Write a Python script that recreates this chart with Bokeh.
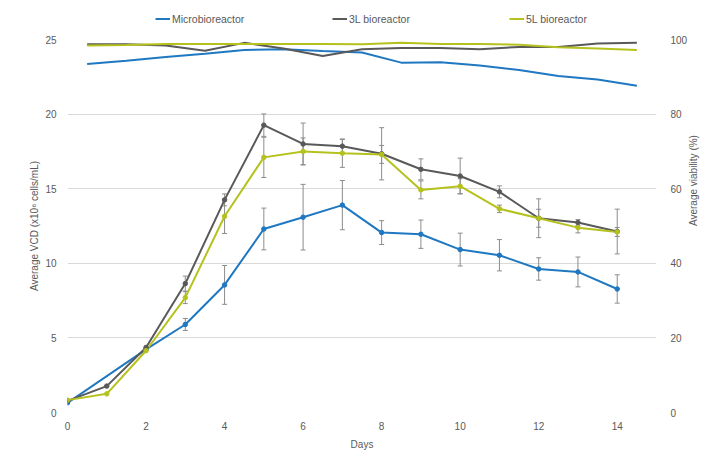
import math
from bokeh.plotting import figure
from bokeh.layouts import column
from bokeh.models import (Range1d, LinearAxis, Legend, LegendItem, Whisker,
                          ColumnDataSource, TeeHead, FixedTicker)
from bokeh.embed import file_html
from bokeh.resources import INLINE

# ---------------- data ----------------
days = list(range(15))
micro_days = [0, 2, 3, 4, 5, 6, 7, 8, 9, 10, 11, 12, 13, 14]
micro_vcd = [0.65, 4.23, 5.9, 8.55, 12.3, 13.09, 13.9, 12.06, 11.95, 10.92, 10.54, 9.62, 9.42, 8.28]
micro_err = [0, 0, 0.4, 1.3, 1.4, 2.2, 1.65, 0.8, 0.95, 1.1, 1.05, 0.75, 1.0, 0.95]

l3_vcd = [0.78, 1.77, 4.36, 8.64, 14.25, 19.26, 18.0, 17.85, 17.34, 16.3, 15.85, 14.79, 13.02, 12.73, 12.13]
l3_err = [0, 0, 0, 0.5, 0.4, 0.75, 1.4, 0.45, 1.75, 0.7, 1.2, 0.4, 1.3, 0.2, 1.5]

l5_vcd = [0.83, 1.25, 4.14, 7.7, 13.15, 17.1, 17.5, 17.38, 17.3, 14.92, 15.17, 13.65, 13.02, 12.39, 12.1]
l5_err = [0, 0, 0, 0.4, 1.15, 1.35, 0.9, 0.95, 0.6, 0.6, 0.5, 0.25, 0.6, 0.35, 0.3]

micro_via = [93.4, 94.3, 95.3, 96.2, 97.2, 97.4, 96.9, 96.5, 93.8, 93.9, 93.0, 91.8, 90.2, 89.3, 87.6]
l3_via = [98.7, 98.7, 98.4, 97.0, 99.1, 97.6, 95.6, 97.4, 97.7, 97.7, 97.4, 98.0, 98.0, 98.9, 99.1]
l5_via = [98.4, 98.5, 98.8, 98.8, 98.8, 98.8, 98.8, 98.7, 99.1, 98.8, 98.8, 98.6, 97.9, 97.6, 97.2]

x_ticks = [0, 2, 4, 6, 8, 10, 12, 14]
vcd_ticks = [0, 5, 10, 15, 20, 25]
via_ticks = [0, 20, 40, 60, 80, 100]

names = ["Microbioreactor", "3L bioreactor", "5L bioreactor"]
colors = ["#1f78c1", "#595959", "#b5c21e"]

FONT = "Liberation Sans"
TXT = "#595959"
GRID = "#d9d9d9"

# ---------------- header with legend ----------------
hdr = figure(width=707, height=31, output_backend="svg", toolbar_location=None,
             x_range=Range1d(0, 1), y_range=Range1d(0, 1),
             x_axis_location=None, y_axis_location=None,
             min_border=0, min_border_left=0, min_border_right=0,
             min_border_top=0, min_border_bottom=0)
hdr.grid.visible = False
hdr.outline_line_color = None
hdr.border_fill_color = "white"
# legend-key renderers: their data sit outside the header's range, only the keys show
hdr_r = [hdr.line([5, 6], [5, 6], line_color=c, line_width=2) for c in colors]
legend = Legend(items=[LegendItem(label=n, renderers=[r]) for n, r in zip(names, hdr_r)],
                orientation="horizontal", location=(88, 5),
                glyph_width=15, glyph_height=15, label_height=15,
                label_standoff=2, label_width=160, spacing=0, padding=4,
                margin=0,
                label_text_font=FONT, label_text_font_size="10.5px",
                label_text_color=TXT, border_line_color=None,
                background_fill_alpha=0)
hdr.add_layout(legend, "center")

# ---------------- main chart ----------------
p = figure(width=707, height=429, output_backend="svg", toolbar_location=None,
           x_range=Range1d(0, 15), y_range=Range1d(0, 25),
           min_border_left=67, min_border_right=50, min_border_top=8,
           min_border_bottom=48)
p.extra_y_ranges = {"via": Range1d(0, 100)}
p.extra_x_ranges = {"cat": Range1d(-0.5, 14.5)}

p.outline_line_color = None
p.background_fill_color = "white"
p.border_fill_color = "white"

p.xgrid.visible = False
p.ygrid.grid_line_color = GRID
p.ygrid.ticker = FixedTicker(ticks=vcd_ticks)


def style_axis(ax):
    ax.axis_line_color = None
    ax.major_tick_line_color = None
    ax.minor_tick_line_color = None
    ax.major_label_text_font = FONT
    ax.major_label_text_font_size = "10px"
    ax.major_label_text_color = TXT
    ax.axis_label_text_font = FONT
    ax.axis_label_text_font_size = "10px"
    ax.axis_label_text_color = TXT
    ax.axis_label_text_font_style = "normal"


p.xaxis.ticker = FixedTicker(ticks=x_ticks)
p.xaxis.axis_label = "Days"
p.xaxis.major_label_standoff = 3
p.xaxis.axis_label_standoff = 6
style_axis(p.xaxis[0])

p.yaxis.ticker = FixedTicker(ticks=vcd_ticks)
p.yaxis.axis_label = "Average VCD (x10\u2076 cells/mL)"
p.yaxis.major_label_standoff = 5
p.yaxis.axis_label_standoff = 2
style_axis(p.yaxis[0])

ry = LinearAxis(y_range_name="via", ticker=FixedTicker(ticks=via_ticks),
                axis_label="Average viability (%)")
ry.major_label_standoff = 8
ry.axis_label_standoff = 3
ry.axis_label_orientation = math.pi / 2
style_axis(ry)
p.add_layout(ry, "right")

# viability lines (secondary category axis)
for vals, c in zip([micro_via, l3_via, l5_via], colors):
    p.line(days, vals, x_range_name="cat", y_range_name="via",
           line_color=c, line_width=2)

# VCD lines
p.line(micro_days, micro_vcd, line_color=colors[0], line_width=2)
p.line(days, l3_vcd, line_color=colors[1], line_width=2)
p.line(days, l5_vcd, line_color=colors[2], line_width=2)
p.scatter(micro_days, micro_vcd, size=4.5, color=colors[0])
p.scatter(days, l3_vcd, size=4.5, color=colors[1])
p.scatter(days, l5_vcd, size=4.5, color=colors[2])

# error bars
for xs, ys, es in [(micro_days, micro_vcd, micro_err),
                   (days, l3_vcd, l3_err),
                   (days, l5_vcd, l5_err)]:
    bx = [x for x, e in zip(xs, es) if e > 0]
    up = [y + e for y, e in zip(ys, es) if e > 0]
    lo = [y - e for y, e in zip(ys, es) if e > 0]
    src = ColumnDataSource(dict(x=bx, upper=up, lower=lo))
    w = Whisker(base="x", upper="upper", lower="lower", source=src,
                line_color="#8c8c8c", line_width=1,
                upper_head=TeeHead(size=5, line_color="#8c8c8c", line_width=1),
                lower_head=TeeHead(size=5, line_color="#8c8c8c", line_width=1))
    p.add_layout(w)

layout = column(hdr, p, spacing=0)
open("out.html", "w").write(file_html(layout, INLINE))
